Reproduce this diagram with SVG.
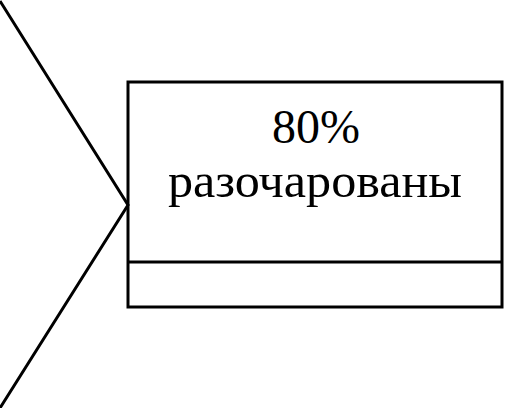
<svg xmlns="http://www.w3.org/2000/svg" width="506" height="408" viewBox="0 0 506 408">
<style>
.s{fill:none;stroke:#000;stroke-width:3}
.t{font-family:"Liberation Serif","Times New Roman",serif;font-size:48px;fill:#000;text-anchor:middle}
</style>
<rect width="506" height="408" fill="#fff"/>
<g id="connectors">
<polyline class="s" points="0,1 128,205 0,408"/>
</g>
<g id="node1">
<rect class="s" x="128" y="82" width="374" height="225"/>
<line class="s" x1="128" y1="262" x2="502" y2="262"/>
<text class="t" x="316" y="143">80%</text>
<text class="t" x="315" y="197" textLength="294" lengthAdjust="spacingAndGlyphs">разочарованы</text>
</g>
</svg>
